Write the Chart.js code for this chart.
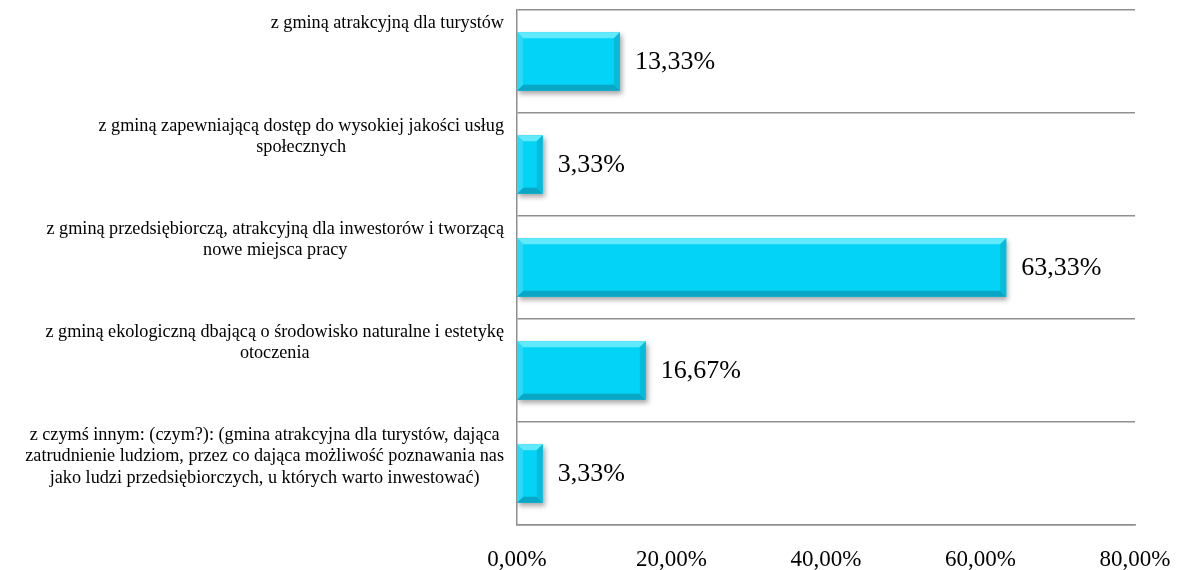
<!DOCTYPE html>
<html>
<head>
<meta charset="utf-8">
<script src="https://cdn.jsdelivr.net/npm/chart.js@4"></script>
<style>
  body { margin: 0; background: #fff; }
  #wrap { width: 1183px; height: 570px; position: relative; }
</style>
</head>
<body>
<div id="wrap"><canvas id="chart"></canvas></div>
<script>
// categories, one array of lines per bar
const categories = [
  ["z gminą atrakcyjną dla turystów"],
  ["z gminą zapewniającą dostęp do wysokiej jakości usług", "społecznych"],
  ["z gminą przedsiębiorczą, atrakcyjną dla inwestorów i tworzącą", "nowe miejsca pracy"],
  ["z gminą ekologiczną dbającą o środowisko naturalne i estetykę", "otoczenia"],
  ["z czymś innym: (czym?): (gmina atrakcyjna dla turystów, dająca", "zatrudnienie ludziom, przez co dająca możliwość poznawania nas", "jako ludzi przedsiębiorczych, u których warto inwestować)"],
];
const values = [13.33, 3.33, 63.33, 16.67, 3.33];
const xTicks = [0, 20, 40, 60, 80];

const pct = (v) => v.toFixed(2).replace(".", ",") + "%";
const SERIF = "'Liberation Serif', 'Times New Roman', serif";

// shadow under bars
const shadowPlugin = {
  id: "barShadow",
  beforeDatasetDraw(chart) {
    const ctx = chart.ctx;
    ctx.save();
    ctx.shadowColor = "rgba(0,0,0,0.35)";
    ctx.shadowBlur = 5;
    ctx.shadowOffsetX = 2;
    ctx.shadowOffsetY = 3;
  },
  afterDatasetDraw(chart) {
    chart.ctx.restore();
  },
};

// bevel edges + value labels
const bevelPlugin = {
  id: "bevel",
  afterDatasetsDraw(chart) {
    const ctx = chart.ctx;
    chart.getDatasetMeta(0).data.forEach((bar, i) => {
      const p = bar.getProps(["x", "y", "base", "height"], true);
      const l = p.base, r = p.x, t = p.y - p.height / 2, b = p.y + p.height / 2;
      const s = Math.min(6, (r - l) / 2);
      const poly = (pts, col) => {
        ctx.beginPath();
        ctx.moveTo(pts[0][0], pts[0][1]);
        pts.slice(1).forEach((q) => ctx.lineTo(q[0], q[1]));
        ctx.closePath();
        ctx.fillStyle = col;
        ctx.fill();
      };
      ctx.save();
      poly([[l, t], [r, t], [r - s, t + s], [l + s, t + s]], "#62e9fb");
      poly([[l, b], [r, b], [r - s, b - s], [l + s, b - s]], "#0aa6c6");
      poly([[r, t], [r, b], [r - s, b - s], [r - s, t + s]], "#07bcdb");
      poly([[l, t], [l, b], [l + s, b - s], [l + s, t + s]], "#2ad9f5");
      ctx.fillStyle = "#000";
      ctx.font = "26px " + SERIF;
      ctx.textAlign = "left";
      ctx.textBaseline = "middle";
      ctx.fillText(pct(values[i]), r + 15, p.y + 1);
      ctx.restore();
    });
  },
};

// category labels: lines centred, block right-aligned, near band top
const catLabelPlugin = {
  id: "catLabels",
  afterDraw(chart) {
    const ctx = chart.ctx;
    const y = chart.scales.y;
    const band = (y.getPixelForValue(1) - y.getPixelForValue(0));
    ctx.save();
    ctx.font = "18.2px " + SERIF;
    ctx.fillStyle = "#000";
    ctx.textAlign = "center";
    ctx.textBaseline = "middle";
    categories.forEach((lines, i) => {
      const top = y.getPixelForValue(i) - band / 2;
      const w = Math.max(...lines.map((s) => ctx.measureText(s).width));
      const cx = chart.chartArea.left - 13 - w / 2;
      lines.forEach((s, k) => ctx.fillText(s, cx, top + 13 + k * 21.5));
    });
    ctx.restore();
  },
};

new Chart(document.getElementById("chart"), {
  type: "bar",
  data: {
    labels: categories,
    datasets: [
      {
        data: values,
        backgroundColor: "#03d3f6",
        borderWidth: 0,
        barPercentage: 0.57,
        categoryPercentage: 1,
      },
    ],
  },
  options: {
    indexAxis: "y",
    responsive: true,
    maintainAspectRatio: false,
    animation: false,
    events: [],
    layout: { padding: { left: 517, right: 48, top: 10, bottom: 0 } },
    plugins: { legend: { display: false }, tooltip: { enabled: false } },
    scales: {
      x: {
        min: 0,
        max: 80,
        afterBuildTicks: (scale) => {
          scale.ticks = xTicks.map((v) => ({ value: v }));
        },
        afterFit: (scale) => {
          scale.height = 45;
          scale.paddingLeft = 0;
          scale.paddingRight = 0;
        },
        ticks: {
          callback: (v) => pct(v),
          font: { family: SERIF, size: 23 },
          color: "#000",
          padding: 21,
          maxRotation: 0,
        },
        grid: { display: false, drawTicks: false },
        border: { display: true, color: "#8f8f8f", width: 1.5 },
      },
      y: {
        ticks: { display: false },
        afterFit: (scale) => { scale.width = 0; },
        grid: { color: "#8f8f8f", lineWidth: 1.5, drawTicks: false, offset: true },
        border: { display: true, color: "#8f8f8f", width: 1.5 },
      },
    },
  },
  plugins: [shadowPlugin, bevelPlugin, catLabelPlugin],
});
</script>
</body>
</html>
